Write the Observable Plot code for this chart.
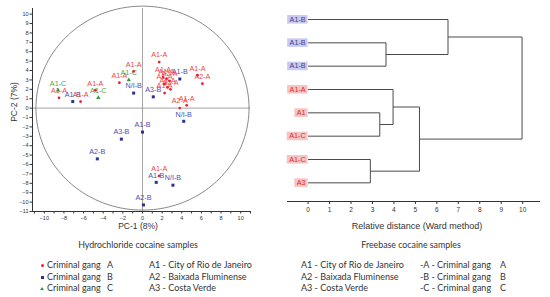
<!DOCTYPE html>
<html><head><meta charset="utf-8">
<script src="https://cdn.jsdelivr.net/npm/d3@7"></script>
<script src="https://cdn.jsdelivr.net/npm/@observablehq/plot@0.6"></script>
<style>
body{margin:0;background:#fff;}
#wrap{position:relative;width:550px;height:297px;overflow:hidden;font-family:Lato,"Open Sans",sans-serif;color:#333;}
.abs{position:absolute;white-space:nowrap;line-height:1;}
.leg{font-size:9px;}
.ttl{font-size:8.8px;}
.ax{font-family:"Liberation Sans",Arial,sans-serif;font-size:8.5px;color:#333;}
.mk{position:absolute;}
</style></head><body><div id="wrap"></div>
<script>
// ---- PCA scatter (hydrochloride) ----
const pcaLabel = ["A1-A","A1-C","A1-B","A1-A","A1-A","A1-C","A1-A","A1-C","A1-A","N/I-B","A3-B","A1-A","A1-B","A2-A","A1-A",
  "A1-A","A1-A","A2-A","A1-A","A1-A","A2-A","A1-A","A2-A","A1-A","N/I-B","A1-B","A3-B","A2-B","A1-A","A1-B","N/I-B","A2-B"];
const pcaGang = ["A","C","B","A","A","C","A","C","A","B","B","A","B","A","A",
  "A","A","A","A","A","A","A","A","A","B","B","B","B","A","B","B","B"];
const pc1 = [-8.5,-8.6,-7.1,-6.3,-4.8,-4.5,-2.35,-1.4,-0.9,-0.9,1.1,1.7,3.8,6.1,5.6,
  2.1,2.45,2.75,2.25,2.55,2.85,2.25,3.8,4.5,4.2,0.0,-2.15,-4.6,1.7,1.4,3.1,0.1];
const pc2 = [1.1,1.9,0.7,0.7,1.9,1.1,2.7,3.0,3.9,1.6,1.2,4.9,3.1,2.6,3.5,
  3.3,3.1,2.9,2.55,2.2,2.0,1.6,0.0,0.3,-1.4,-2.55,-3.3,-5.4,-7.2,-7.9,-8.2,-10.3];
const pcaXTicks = [-10,-8,-6,-4,-2,0,2,4,6,8,10];
const pcaXMinor = [-11,-10,-9,-8,-7,-6,-5,-4,-3,-2,-1,0,1,2,3,4,5,6,7,8,9,10,11];
const pcaYTicks = [-11,-10,-9,-8,-7,-6,-5,-4,-3,-2,-1,0,1,2,3,4,5,6,7,8,9,10];
const confidenceRadius = 10.85;

// ---- Dendrogram (freebase) ----
const leafLabel = ["A1-B","A1-B","A1-B","A1-A","A1","A1-C","A1-C","A3"];
const leafGroup = ["B","B","B","A","A","A","A","A"];
const mergeLeft  = [1,0,4,3,6,11,9];
const mergeRight = [2,8,5,10,7,12,13];
const mergeHeight = [3.63,6.52,3.34,3.96,2.90,5.19,9.97];
const distTicks = [0,1,2,3,4,5,6,7,8,9,10];

const dotColor = {A:"#e8232a", B:"#2e3192", C:"#2f9a3a"};
const labColor = {A:"#f04545", B:"#4b4fb5", C:"#47a84e"};

const pts = pcaLabel.map((t,i)=>({label:t, gang:pcaGang[i], x:pc1[i], y:pc2[i]}));
const circlePts = d3.range(0, 361, 2).map(a => ({x: confidenceRadius*Math.cos(a*Math.PI/180), y: confidenceRadius*Math.sin(a*Math.PI/180)}));

const wrap = document.getElementById("wrap");
function place(el, left, top){ const d=document.createElement("div"); d.className="abs"; d.style.left=left+"px"; d.style.top=top+"px"; d.appendChild(el); wrap.appendChild(d); return d; }

const scatter = Plot.plot({
  width: 270, height: 232,
  marginLeft: 32, marginRight: 20, marginTop: 8, marginBottom: 21,
  x: {domain: [-11.2, 11]},
  y: {domain: [-11, 10.6]},
  style: {fontFamily: "'Liberation Sans', Arial, sans-serif", background: "transparent", color:"#333"},
  marks: [
    Plot.line(circlePts, {x:"x", y:"y", stroke:"#7a7a7a", strokeWidth:0.9}),
    Plot.ruleY([0], {stroke:"#8c8c8c", strokeWidth:0.8}),
    Plot.ruleX([0], {stroke:"#8c8c8c", strokeWidth:0.8}),
    Plot.axisY({ticks: pcaYTicks, tickSize: 2.5, tickPadding: 1.5, fontSize: 5.5, label: null, stroke:"#333"}),
    Plot.axisX({ticks: pcaXMinor, tickSize: 2.5, tickFormat: () => "", label: null, stroke:"#333"}),
    Plot.axisX({ticks: pcaXTicks, tickSize: 0, tickPadding: 5, fontSize: 5.5, label: null}),
    Plot.ruleX([-11.2], {stroke:"#333", strokeWidth:1}),
    Plot.ruleY([-11], {stroke:"#333", strokeWidth:1}),
    Plot.text(pts, {x:"x", y:"y", text:"label", fill: d => labColor[d.gang], dy:-7, fontSize:7.2}),
    Plot.dot(pts.filter(d=>d.gang==="A"), {x:"x", y:"y", r:1.4, fill:dotColor.A, symbol:"circle"}),
    Plot.dot(pts.filter(d=>d.gang==="B"), {x:"x", y:"y", r:1.7, fill:dotColor.B, symbol:"square"}),
    Plot.dot(pts.filter(d=>d.gang==="C"), {x:"x", y:"y", r:1.6, fill:dotColor.C, symbol:"triangle"})
  ]
});
place(scatter, 0, 0);

// dendrogram layout from merges
const nodes = leafLabel.map((t,i)=>({x:0, y:i}));
mergeLeft.forEach((l,k)=>{ const r = mergeRight[k]; nodes.push({x: mergeHeight[k], y:(nodes[l].y + nodes[r].y)/2}); });
const segs = [];
mergeLeft.forEach((l,k)=>{
  const r = mergeRight[k], h = mergeHeight[k];
  segs.push({x1:nodes[l].x, y1:nodes[l].y, x2:h, y2:nodes[l].y});
  segs.push({x1:nodes[r].x, y1:nodes[r].y, x2:h, y2:nodes[r].y});
  segs.push({x1:h, y1:nodes[l].y, x2:h, y2:nodes[r].y});
});
const leaves = leafLabel.map((t,i)=>({label:t, group:leafGroup[i], i}));
const leafText = {A:"#d42b2b", B:"#3b3c8f"};
const leafBg = {A:"#f6c4c4", B:"#cacaee"};

const dendro = Plot.plot({
  width: 280, height: 232,
  marginLeft: 17, marginRight: 10, marginTop: 19, marginBottom: 31,
  x: {domain: [-0.96, 10.83]},
  y: {domain: [0, 7.8], reverse: true, axis: null},
  style: {fontFamily: "'Liberation Sans', Arial, sans-serif", background: "transparent", color:"#333"},
  marks: [
    Plot.link(segs, {x1:"x1", y1:"y1", x2:"x2", y2:"y2", stroke:"#4a4a4a", strokeWidth:1}),
    Plot.ruleY([7.8], {stroke:"#333", strokeWidth:1}),
    Plot.axisX({ticks: distTicks, tickSize: 3, tickPadding: 3, fontSize: 6.5, label: null, stroke:"#333"}),
    Plot.text(leaves, {x: 0, y: "i", text: "label", textAnchor: "end", dx: -2.5, fill: d => leafText[d.group], fontSize: 7.2})
  ]
});
place(dendro, 270, 0);

// boxes behind leaf labels
(function(){
  const svg = dendro.tagName === "svg" ? dendro : dendro.querySelector("svg");
  const sb = svg.getBoundingClientRect();
  const x0 = 17 + (0 - (-0.96)) / (10.83 + 0.96) * (280 - 17 - 10);
  svg.querySelectorAll('g[aria-label="text"] text').forEach((t, k) => {
    const b = t.getBoundingClientRect();
    const cy = b.top - sb.top + b.height/2;
    const rect = document.createElementNS("http://www.w3.org/2000/svg","rect");
    const left = b.left - sb.left - 2.5;
    rect.setAttribute("x", left);
    rect.setAttribute("y", cy - 4.3);
    rect.setAttribute("width", x0 - left);
    rect.setAttribute("height", 8.6);
    rect.setAttribute("fill", leafBg[leaves[k].group]);
    const g = t.parentNode;
    g.parentNode.insertBefore(rect, g);
  });
})();

// axis titles
function txt(s, cls, left, top, extra){ const d=document.createElement("div"); d.className="abs "+cls; d.textContent=s; d.style.left=left+"px"; d.style.top=top+"px"; if(extra) Object.assign(d.style, extra); wrap.appendChild(d); return d; }
txt("PC-1 (8%)", "ax", 138, 222, {transform:"translateX(-50%)"});
txt("PC-2 (7%)", "ax", 14, 102, {transform:"translate(-50%,-50%) rotate(-90deg)"});
txt("Relative distance (Ward method)", "ax", 417, 222, {transform:"translateX(-50%)", fontSize:"9px"});

// legends
txt("Hydrochloride cocaine samples", "ttl", 138, 241, {transform:"translateX(-50%)"});
txt("Freebase cocaine samples", "ttl", 411, 241, {transform:"translateX(-50%)"});
const gangs = ["A","B","C"];
const rowsY = [265, 277, 288];
const regions = ["A1 - City of Rio de Janeiro","A2 - Baixada Fluminense","A3 - Costa Verde"];
gangs.forEach((g,i)=>{
  const m = document.createElement("div"); m.className="mk";
  if(g==="A"){ Object.assign(m.style,{left:"40.5px",top:(rowsY[i]-1.5)+"px",width:"3px",height:"3px",borderRadius:"50%",background:dotColor.A}); }
  else if(g==="B"){ Object.assign(m.style,{left:"40.5px",top:(rowsY[i]-1.5)+"px",width:"3px",height:"3px",background:dotColor.B}); }
  else { Object.assign(m.style,{left:"40px",top:(rowsY[i]-1.5)+"px",width:"0",height:"0",borderLeft:"2px solid transparent",borderRight:"2px solid transparent",borderBottom:"3px solid "+dotColor.C}); }
  wrap.appendChild(m);
  const ty = rowsY[i] - 5.3;
  txt("Criminal gang", "leg", 47, ty);
  txt(g, "leg", 107, ty);
  txt(regions[i], "leg", 149, ty);
  txt(regions[i], "leg", 301, ty);
  txt("-"+g+" - Criminal gang", "leg", 420, ty);
  txt(g, "leg", 500, ty);
});
</script></body></html>
